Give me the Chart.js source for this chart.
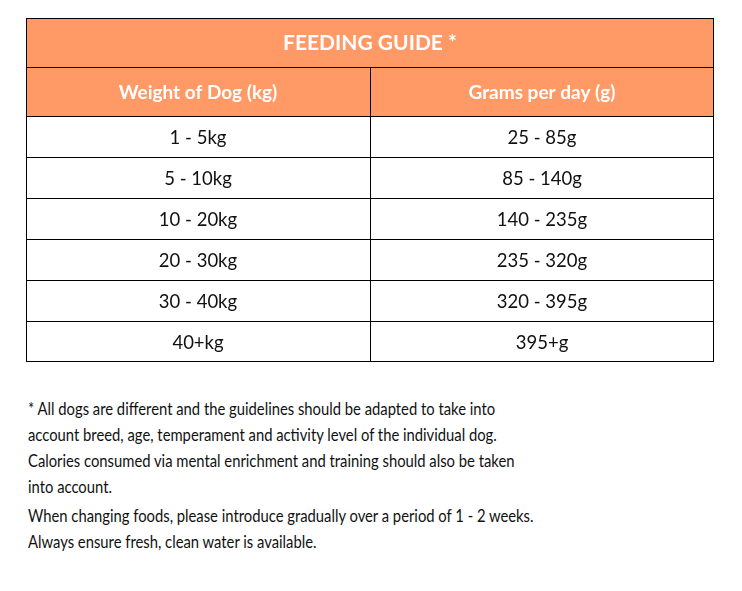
<!DOCTYPE html>
<html>
<head>
<meta charset="utf-8">
<script src="https://cdn.jsdelivr.net/npm/chart.js@4/dist/chart.umd.min.js"></script>
<style>
  body { margin: 0; background: #fff; width: 742px; height: 591px; position: relative; overflow: hidden; font-family: Lato, "Open Sans", sans-serif; }
  #headBox { position: absolute; left: 26px; top: 18px; width: 689px; height: 98px; }
  #bodyBox { position: absolute; left: 26px; top: 116px; width: 689px; height: 246px; }
  .note { position: absolute; left: 28px; color: #111; font-size: 17px; line-height: 26px; white-space: nowrap; transform: scaleX(0.87); transform-origin: 0 0; }
</style>
</head>
<body>
<div id="headBox"><canvas id="headChart"></canvas></div>
<div id="bodyBox"><canvas id="bodyChart"></canvas></div>
<div class="note" style="top:396px">
  * All dogs are different and the guidelines should be adapted to take into<br>
  account breed, age, temperament and activity level of the individual dog.<br>
  Calories consumed via mental enrichment and training should also be taken<br>
  into account.
</div>
<div class="note" style="top:503px">
  When changing foods, please introduce gradually over a period of 1 - 2 weeks.<br>
  Always ensure fresh, clean water is available.
</div>
<script>
// ---------------------------------------------------------------------------
// Data
// ---------------------------------------------------------------------------

const TITLE          = 'FEEDING GUIDE *';
const COLUMN_HEADERS = ['Weight of Dog (kg)', 'Grams per day (g)'];
const WEIGHTS        = ['1 - 5kg', '5 - 10kg', '10 - 20kg', '20 - 30kg', '30 - 40kg', '40+kg'];
const GRAMS          = ['25 - 85g', '85 - 140g', '140 - 235g', '235 - 320g', '320 - 395g', '395+g'];

const ORANGE = '#ff9966';
const LINE   = '#000';

// column i covers [i, i+1] on the x scale
const colSpan = (i, n = 1) => [i, i + n];

// ---------------------------------------------------------------------------
// Cell text plugin
// ---------------------------------------------------------------------------

const cellTextPlugin = {
  id: 'cellText',
  afterDatasetsDraw(chart) {
    const { ctx } = chart;
    chart.data.datasets.forEach((ds, di) => {
      const meta = chart.getDatasetMeta(di);
      meta.data.forEach((bar, i) => {
        const text = ds.texts[i];
        if (!text) return;
        const { x, y, base } = bar.getProps(['x', 'y', 'base'], true);
        const style = ds.textStyle(i);
        ctx.save();
        ctx.fillStyle    = style.color;
        ctx.font         = style.font;
        ctx.textAlign    = 'center';
        ctx.textBaseline = 'middle';
        ctx.fillText(text, (x + base) / 2, y + style.dy);
        ctx.restore();
      });
    });
  },
};

function cellBorders(lastRowBorder) {
  return (c) => {
    const raw = c.raw;
    const rows = c.chart.data.labels.length;
    return {
      top: 1,
      left: 1,
      right: raw && raw[1] === 2 ? 1 : 0,
      bottom: lastRowBorder && c.dataIndex === rows - 1 ? 1 : 0,
    };
  };
}

function baseOptions() {
  return {
    indexAxis: 'y',
    responsive: true,
    maintainAspectRatio: false,
    animation: false,
    events: [],
    // one spare pixel on the right keeps the column split on a whole pixel
    layout: { padding: { right: 1 } },
    plugins: { legend: { display: false }, tooltip: { enabled: false } },
    scales: {
      x: { type: 'linear', min: 0, max: 2, display: false },
      y: { display: false },
    },
  };
}

const barDefaults = {
  grouped: false,
  barPercentage: 1,
  categoryPercentage: 1,
  borderSkipped: false,
  inflateAmount: 0,
  borderColor: LINE,
};

// ---------------------------------------------------------------------------
// Header (title + column headers)
// ---------------------------------------------------------------------------

const headStyle = (i) => i === 0
  ? { color: '#fff', font: 'bold 21px Lato, sans-serif', dy: 1 }
  : { color: '#fff', font: 'bold 19px Lato, sans-serif', dy: 1 };

new Chart(document.getElementById('headChart'), {
  type: 'bar',
  data: {
    labels: ['title', 'columns'],
    datasets: [
      { ...barDefaults, data: [colSpan(0, 2), colSpan(0)], texts: [TITLE, COLUMN_HEADERS[0]],
        backgroundColor: ORANGE, borderWidth: cellBorders(false), textStyle: headStyle },
      { ...barDefaults, data: [null, colSpan(1)], texts: [null, COLUMN_HEADERS[1]],
        backgroundColor: ORANGE, borderWidth: cellBorders(false), textStyle: headStyle },
    ],
  },
  plugins: [cellTextPlugin],
  options: baseOptions(),
});

// ---------------------------------------------------------------------------
// Body rows
// ---------------------------------------------------------------------------

const bodyStyle = () => ({ color: '#111', font: '18.5px Lato, sans-serif', dy: 2 });

new Chart(document.getElementById('bodyChart'), {
  type: 'bar',
  data: {
    labels: WEIGHTS,
    datasets: [
      { ...barDefaults, data: WEIGHTS.map(() => colSpan(0)), texts: WEIGHTS,
        backgroundColor: '#fff', borderWidth: cellBorders(true), textStyle: bodyStyle },
      { ...barDefaults, data: GRAMS.map(() => colSpan(1)), texts: GRAMS,
        backgroundColor: '#fff', borderWidth: cellBorders(true), textStyle: bodyStyle },
    ],
  },
  plugins: [cellTextPlugin],
  options: baseOptions(),
});
</script>
</body>
</html>
